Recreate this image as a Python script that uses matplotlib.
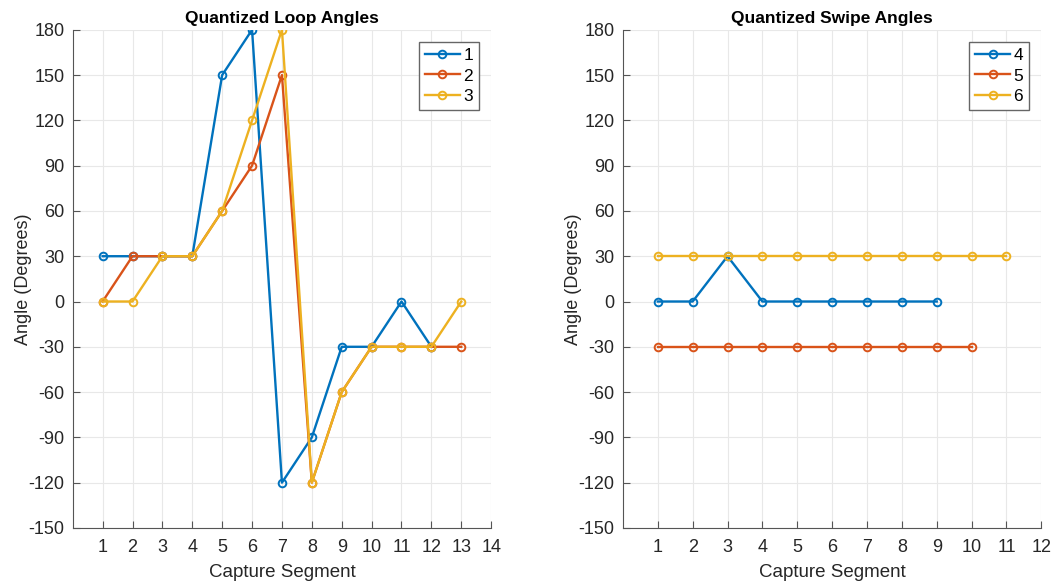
import matplotlib.pyplot as plt

plt.rcParams['font.family'] = ['Liberation Sans', 'DejaVu Sans']
plt.rcParams['axes.unicode_minus'] = False

# Quantized loop angles (left panel)
loop_x1 = [1, 2, 3, 4, 5, 6, 7, 8, 9, 10, 11, 12]
loop_y1 = [30, 30, 30, 30, 150, 180, -120, -90, -30, -30, 0, -30]
loop_x2 = [1, 2, 3, 4, 5, 6, 7, 8, 9, 10, 11, 12, 13]
loop_y2 = [0, 30, 30, 30, 60, 90, 150, -120, -60, -30, -30, -30, -30]
loop_x3 = [1, 2, 3, 4, 5, 6, 7, 8, 9, 10, 11, 12, 13]
loop_y3 = [0, 0, 30, 30, 60, 120, 180, -120, -60, -30, -30, -30, 0]

# Quantized swipe angles (right panel)
swipe_x4 = [1, 2, 3, 4, 5, 6, 7, 8, 9]
swipe_y4 = [0, 0, 30, 0, 0, 0, 0, 0, 0]
swipe_x5 = [1, 2, 3, 4, 5, 6, 7, 8, 9, 10]
swipe_y5 = [-30, -30, -30, -30, -30, -30, -30, -30, -30, -30]
swipe_x6 = [1, 2, 3, 4, 5, 6, 7, 8, 9, 10, 11]
swipe_y6 = [30, 30, 30, 30, 30, 30, 30, 30, 30, 30, 30]

colors = ['#0072BD', '#D95319', '#EDB120']
y_ticks = list(range(-150, 181, 30))

fig = plt.figure(figsize=(10.54, 5.84), dpi=100)
ax1 = fig.add_axes([0.069, 0.096, 0.397, 0.853])
ax2 = fig.add_axes([0.591, 0.096, 0.397, 0.853])


def style_axes(ax, xmax, title):
    ax.set_xlim(0, xmax)
    ax.set_ylim(-150, 180)
    ax.set_xticks(range(1, xmax + 1))
    ax.set_yticks(y_ticks)
    ax.grid(True, color='#e8e8e8', linewidth=0.8)
    ax.set_axisbelow(True)
    for side in ['top', 'right']:
        ax.spines[side].set_visible(False)
    for side in ['left', 'bottom']:
        ax.spines[side].set_color('#555555')
    ax.tick_params(direction='in', length=5, colors='#555555',
                   labelcolor='#262626', labelsize=13)
    ax.tick_params(axis='x', pad=8)
    ax.tick_params(axis='y', pad=6)
    ax.set_title(title, fontsize=12.5, fontweight='bold', pad=5)
    ax.set_xlabel('Capture Segment', fontsize=13.5, color='#262626', labelpad=6)
    ax.set_ylabel('Angle (Degrees)', fontsize=13, color='#262626', labelpad=-2.5)
    ax.legend(loc='upper right', fontsize=12.5, handlelength=2.0,
              fancybox=False, edgecolor='#666666', framealpha=1,
              borderaxespad=0.7, handletextpad=0.2, labelspacing=0.3,
              borderpad=0.35)


for x, y, c, lab in [(loop_x1, loop_y1, colors[0], '1'),
                     (loop_x2, loop_y2, colors[1], '2'),
                     (loop_x3, loop_y3, colors[2], '3')]:
    ax1.plot(x, y, color=c, marker='o', mfc='none', ms=5.5, mew=1.4, lw=1.7, label=lab)
style_axes(ax1, 14, 'Quantized Loop Angles')

for x, y, c, lab in [(swipe_x4, swipe_y4, colors[0], '4'),
                     (swipe_x5, swipe_y5, colors[1], '5'),
                     (swipe_x6, swipe_y6, colors[2], '6')]:
    ax2.plot(x, y, color=c, marker='o', mfc='none', ms=5.5, mew=1.4, lw=1.7, label=lab)
style_axes(ax2, 12, 'Quantized Swipe Angles')

fig.savefig('out.png', dpi=100)
